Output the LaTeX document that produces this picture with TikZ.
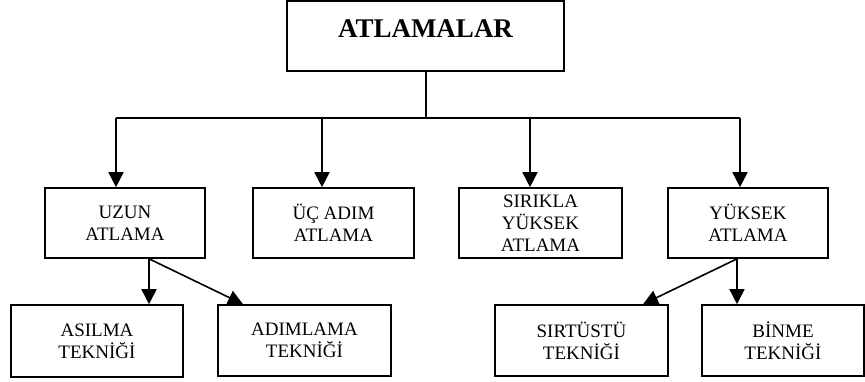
\documentclass[tikz,border=0pt]{standalone}
\usepackage{fontspec}
\setmainfont{Liberation Serif}
\usetikzlibrary{arrows.meta}
\begin{document}
\begin{tikzpicture}[x=1pt,y=1pt,
  box/.style={draw, line width=1.6pt, rectangle, align=center, inner sep=0pt,
    font=\fontsize{19}{22}\selectfont},
  conn/.style={line width=1.6pt},
  arr/.style={line width=1.6pt, -{Triangle[length=15pt,width=15pt]}}]
\useasboundingbox (0,0) rectangle (865,-381);
% top
\node[box, minimum width=277pt, minimum height=70pt, text depth=14pt,
  font=\fontsize{27}{30}\selectfont\bfseries] (top) at (425.5,-36) {ATLAMALAR};
% row 2
\node[box, minimum width=160pt, minimum height=70pt] (uzun) at (125,-223) {UZUN\\ATLAMA};
\node[box, minimum width=161pt, minimum height=70pt] (ucadim) at (333.5,-223) {ÜÇ ADIM\\ATLAMA};
\node[box, minimum width=163pt, minimum height=70pt] (sirik) at (540.5,-223) {SIRIKLA\\YÜKSEK\\ATLAMA};
\node[box, minimum width=160pt, minimum height=70pt] (yuksek) at (748,-223) {YÜKSEK\\ATLAMA};
% row 3
\node[box, minimum width=172pt, minimum height=72pt] (asilma) at (97,-341) {ASILMA\\TEKNİĞİ};
\node[box, minimum width=173pt, minimum height=71pt] (adimlama) at (304.5,-340.5) {ADIMLAMA\\TEKNİĞİ};
\node[box, minimum width=173pt, minimum height=71pt] (sirtustu) at (581.5,-340.5) {SIRTÜSTÜ\\TEKNİĞİ};
\node[box, minimum width=162pt, minimum height=71pt] (binme) at (783,-340.5) {BİNME\\TEKNİĞİ};
% bus
\coordinate (hub) at (426,-118);
\coordinate (b1) at (116,-118);
\coordinate (b2) at (322,-118);
\coordinate (b3) at (530,-118);
\coordinate (b4) at (740,-118);
\draw[conn] (hub |- top.south) -- (hub);
\draw[conn] (b1) -- (b4);
\draw[arr] (b1) -- (b1 |- uzun.north);
\draw[arr] (b2) -- (b2 |- ucadim.north);
\draw[arr] (b3) -- (b3 |- sirik.north);
\draw[arr] (b4) -- (b4 |- yuksek.north);
% lower arrows
\coordinate (ua) at ([xshift=24pt]uzun.south);
\coordinate (ya) at ([xshift=-11pt]yuksek.south);
\draw[arr] (ua) -- (ua |- asilma.north);
\draw[arr] (ua) -- ([xshift=-61.5pt]adimlama.north);
\draw[arr] (ya) -- (ya |- binme.north);
\draw[arr] (ya) -- ([xshift=61.5pt]sirtustu.north);
\end{tikzpicture}
\end{document}
